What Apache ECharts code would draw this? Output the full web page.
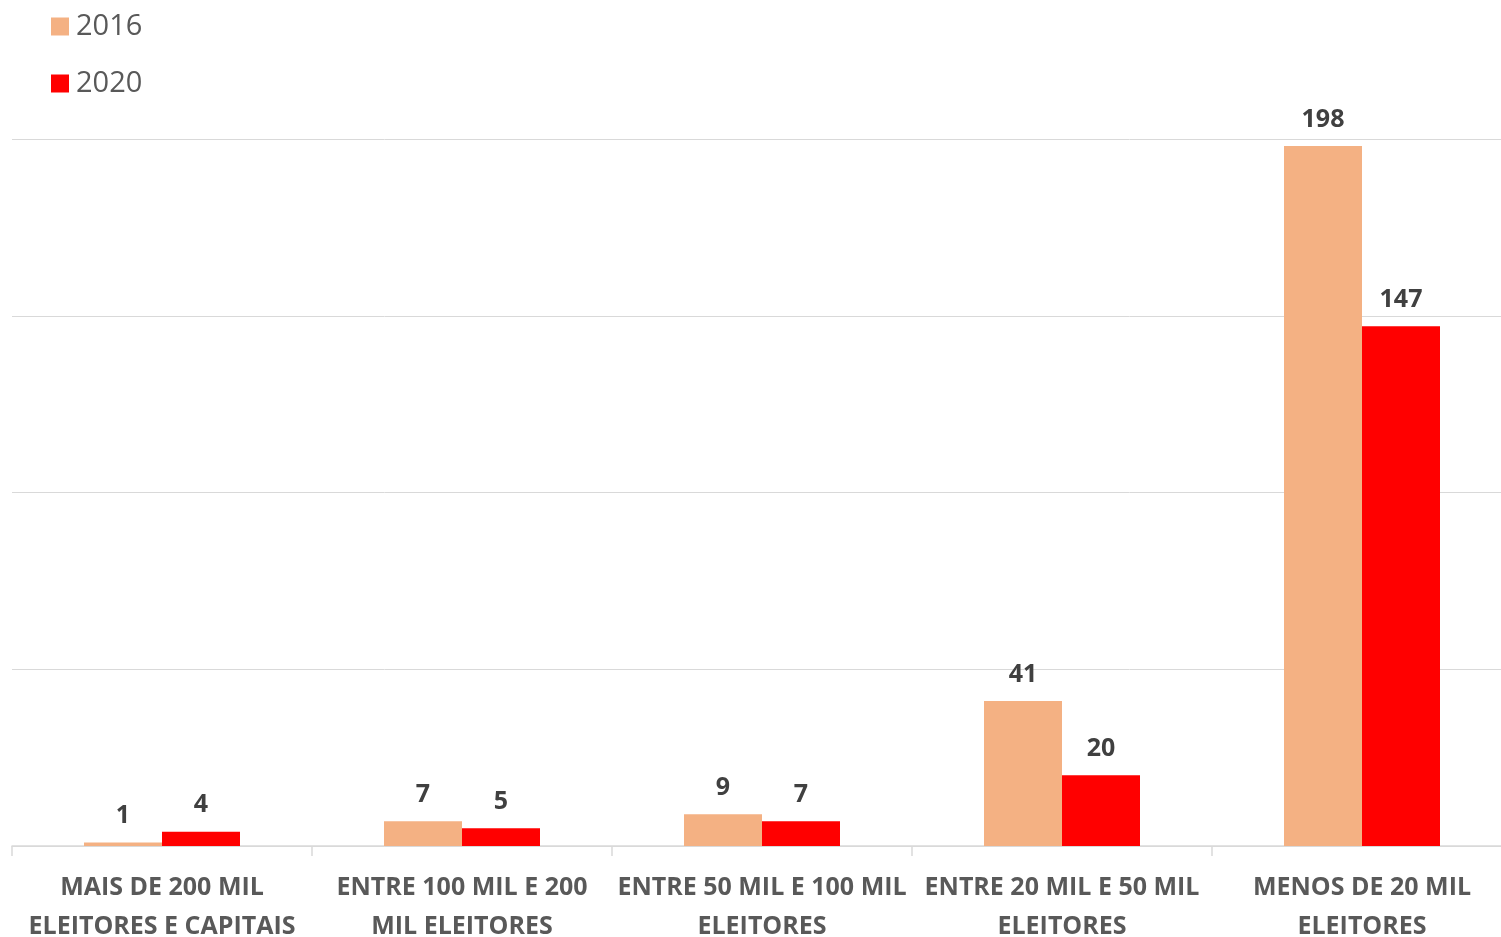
<!DOCTYPE html>
<html>
<head>
<meta charset="utf-8">
<script src="https://cdn.jsdelivr.net/npm/echarts@6/dist/echarts.min.js"></script>
<style>html,body{margin:0;padding:0;background:#fff}#c{width:1501px;height:937px}</style>
</head>
<body>
<div id="c"></div>
<script>
const categories = [
  'MAIS DE 200 MIL\nELEITORES E CAPITAIS',
  'ENTRE 100 MIL E 200\nMIL ELEITORES',
  'ENTRE 50 MIL E 100 MIL\nELEITORES',
  'ENTRE 20 MIL E 50 MIL\nELEITORES',
  'MENOS DE 20 MIL\nELEITORES'
];
const seriesNames = ['2016', '2020'];
const values2016 = [1, 7, 9, 41, 198];
const values2020 = [4, 5, 7, 20, 147];

const FONT = '"Open Sans", sans-serif';
const chart = echarts.init(document.getElementById('c'));
const labelStyle = {
  show: true, position: 'top', distance: 14,
  fontFamily: FONT, fontSize: 25, fontWeight: 'bold', color: '#404040'
};
chart.setOption({
  animation: false,
  legend: {
    orient: 'vertical', left: 46, top: 7,
    itemWidth: 18, itemHeight: 18, itemGap: 28,
    icon: 'rect',
    textStyle: { fontFamily: FONT, fontSize: 29, lineHeight: 20, color: '#595959', padding: [0, 0, 0, 2] },
    data: seriesNames
  },
  grid: { left: 12, top: 139, width: 1500, height: 707, outerBoundsMode: 'none', containLabel: false },
  xAxis: {
    type: 'category', data: categories,
    axisLine: { lineStyle: { color: '#d9d9d9', width: 1.5 } },
    axisTick: { show: true, length: 10, lineStyle: { color: '#d9d9d9', width: 1.5 } },
    axisLabel: {
      interval: 0, margin: 22, lineHeight: 39,
      fontFamily: FONT, fontSize: 25, fontWeight: 'bold', color: '#595959'
    }
  },
  yAxis: {
    type: 'value', min: 0, max: 200, interval: 50,
    axisLabel: { show: false }, axisLine: { show: false }, axisTick: { show: false },
    splitLine: { lineStyle: { color: '#d9d9d9', width: 1 } }
  },
  series: [
    { name: seriesNames[0], type: 'bar', data: values2016, barWidth: 78, barGap: '0%',
      itemStyle: { color: '#F4B183' }, label: labelStyle },
    { name: seriesNames[1], type: 'bar', data: values2020, barWidth: 78, barGap: '0%',
      itemStyle: { color: '#FF0000' }, label: labelStyle }
  ]
});
</script>
</body>
</html>
